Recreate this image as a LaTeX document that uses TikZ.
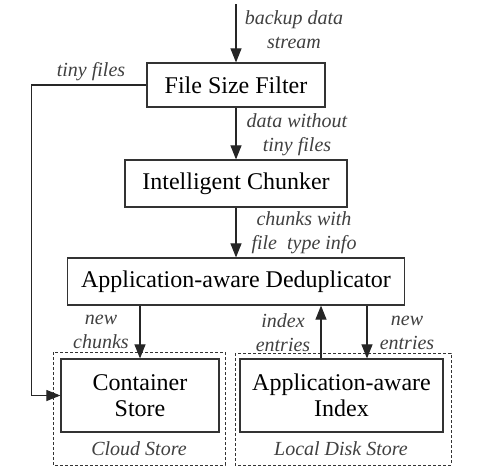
\documentclass[tikz,border=0pt]{standalone}
\usepackage{fontspec}
\setmainfont{Liberation Serif}
\usetikzlibrary{arrows.meta}
\begin{document}
\begin{tikzpicture}[x=1pt,y=-1pt,
  box/.style={draw=black!80,line width=1.2pt,font=\fontsize{24}{26}\selectfont,align=center,inner sep=0pt},
  lbl/.style={font=\fontsize{20}{24}\selectfont\itshape,text=black!75,align=center},
  arr/.style={draw=black!85,line width=1.1pt,-{Triangle[length=14pt,width=11pt]}},
  store/.style={draw=black!80,line width=1pt,dash pattern=on 3pt off 2pt}]
\useasboundingbox (0,0) rectangle (496,467);

% outer stores
\draw [store] (53,352) rectangle (225,465);
\draw [store] (235,353) rectangle (451,465);
\node [lbl] (cloud) at (139,449) {Cloud Store};
\node [lbl] (local) at (341,449) {Local Disk Store};

% boxes
\node [box,minimum width=178pt,minimum height=44pt] (filter) at (236,85) {File Size Filter};
\node [box,minimum width=222pt,minimum height=47pt] (chunker) at (236,183.5) {Intelligent Chunker};
\node [box,minimum width=337pt,minimum height=47pt] (dedup) at (236,281.5) {Application-aware Deduplicator};
\node [box,minimum width=158pt,minimum height=73pt] (container) at (140,395.5) {Container\\Store};
\node [box,minimum width=203pt,minimum height=73pt] (index) at (341.5,395.5) {Application-aware\\Index};

% arrows
\coordinate (in) at (236,4);
\draw [arr] (in) -- (filter.north);
\draw [arr] (filter.south) -- (chunker.north);
\draw [arr] (chunker.south) -- (dedup.north);
\draw [arr] (filter.west) -- ++(-115,0) |- (container.west);
\draw [arr] (container.north |- dedup.south) -- (container.north);
\draw [arr] ([xshift=-20.5pt]index.north) -- ([xshift=-20.5pt]index.north |- dedup.south);
\draw [arr] ([xshift=25.5pt]index.north |- dedup.south) -- ([xshift=25.5pt]index.north);

% labels
\node [lbl] (l1) at (294,30) {backup data\\stream};
\node [lbl] (l2) at (91,72) {tiny files};
\node [lbl] (l3) at (297,134.5) {data without\\tiny files};
\node [lbl] (l4) at (304,232.5) {chunks with\\file\ \ type info};
\node [lbl] (l5) at (101,331.5) {new\\chunks};
\node [lbl] (l6) at (283,333) {index\\entries};
\node [lbl] (l7) at (407,333) {new\\entries};
\end{tikzpicture}
\end{document}
